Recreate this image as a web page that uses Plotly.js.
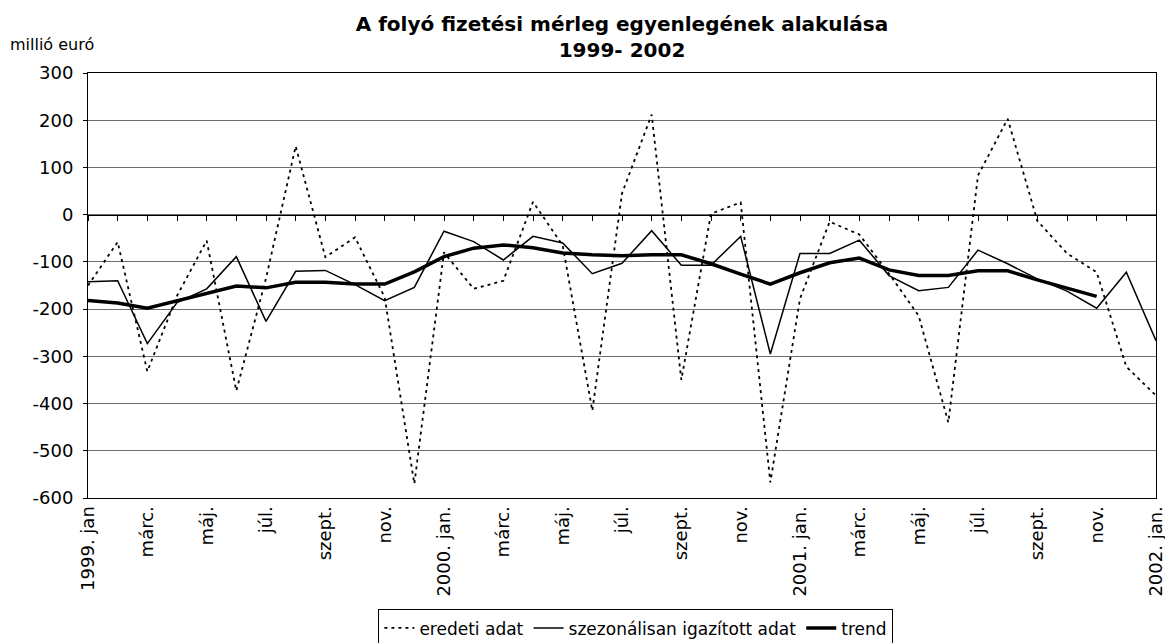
<!DOCTYPE html>
<html>
<head>
<meta charset="utf-8">
<script src="https://cdn.plot.ly/plotly-3.0.1.min.js"></script>
<style>html,body{margin:0;padding:0;background:#fff;}#chart{width:1165px;height:643px;}</style>
</head>
<body>
<div id="chart"></div>
<script>
// Month categories, 1999 jan – 2002 jan
const monthLabels = [
  "1999. jan","febr.","márc.","ápr.","máj.","jún.","júl.","aug.","szept.","okt.","nov.","dec.",
  "2000. jan.","febr.","márc.","ápr.","máj.","jún.","júl.","aug.","szept.","okt.","nov.","dec.",
  "2001. jan.","febr.","márc.","ápr.","máj.","jún.","júl.","aug.","szept.","okt.","nov.","dec.",
  "2002. jan."
];

// y-axis tick values (millió euró)
const yTicks = [300, 200, 100, 0, -100, -200, -300, -400, -500, -600];

// eredeti adat (original data), millió euró
const eredeti = [
  -150, -58, -332, -172, -55, -373, -135, 145, -90, -48, -175, -570,
  -80, -157, -140, 27, -65, -415, 45, 212, -350, 2, 26, -567,
  -178, -15, -42, -125, -214, -440, 83, 203, -13, -82, -122, -322,
  -383
];

// szezonálisan igazított adat (seasonally adjusted)
const szezonalis = [
  -142, -140, -273, -186, -157, -89, -226, -120, -118, -148, -182, -154,
  -35, -57, -96, -46, -60, -125, -103, -34, -107, -107, -46, -295,
  -82, -82, -54, -129, -161, -154, -75, -104, -136, -162, -198, -122,
  -267
];

// trend
const trend = [
  -182, -187, -198, -182, -167, -151, -155, -143, -143, -147, -147, -121,
  -89, -71, -64, -70, -81, -85, -87, -85, -85, -104, -126, -147,
  -123, -102, -92, -117, -129, -129, -119, -119, -138, -156, -173, null,
  null
];

const xIdx = monthLabels.map((_, i) => i);
const tickIdx = xIdx.filter(i => i % 2 === 0);
const tickText = tickIdx.map(i => monthLabels[i]);

const FONT = "DejaVu Sans, Arial, sans-serif";

const traces = [
  {x: xIdx, y: eredeti, name: "eredeti adat", type: "scatter", mode: "lines",
   line: {color: "#000", width: 1.8, dash: "3px,4px"}},
  {x: xIdx, y: szezonalis, name: "szezonálisan igazított adat", type: "scatter", mode: "lines",
   line: {color: "#000", width: 1.5}},
  {x: xIdx, y: trend, name: "trend", type: "scatter", mode: "lines", xaxis: "x2",
   line: {color: "#000", width: 3.5}}
];

const layout = {
  width: 1165, height: 643,
  margin: {l: 88, r: 9, t: 73, b: 145, autoexpand: false},
  paper_bgcolor: "#fff", plot_bgcolor: "#fff",
  font: {family: FONT, color: "#000", size: 17},
  title: {
    text: "<b>A folyó fizetési mérleg egyenlegének alakulása<br>1999- 2002</b>",
    font: {family: FONT, size: 20, color: "#000"},
    x: 0.5, xref: "paper", xanchor: "center",
    y: 0.952, yref: "container", yanchor: "top"
  },
  xaxis: {
    range: [0, 36], tickmode: "array", tickvals: tickIdx, ticktext: tickText,
    tickangle: -90, tickfont: {family: FONT, size: 18}, ticklabeloverflow: "allow",
    showgrid: false, zeroline: false, showline: true, linecolor: "#000", linewidth: 1,
    mirror: true, ticks: ""
  },
  xaxis2: {
    range: [0, 36], overlaying: "x", anchor: "free", position: 600 / 900, side: "bottom",
    tickmode: "linear", tick0: 0, dtick: 1, ticks: "outside", ticklen: 5, tickcolor: "#000",
    showticklabels: false, showgrid: false, zeroline: false,
    showline: true, linecolor: "#000", linewidth: 1
  },
  yaxis: {
    range: [-600, 300], tickmode: "array", tickvals: yTicks, ticktext: yTicks.map(v => String(v)),
    tickfont: {family: FONT, size: 18}, ticklabelstandoff: 6,
    showgrid: true, gridcolor: "#6e6e6e", gridwidth: 1,
    zeroline: false, showline: true, linecolor: "#000", linewidth: 1, mirror: true,
    ticks: "outside", ticklen: 4, tickcolor: "#000"
  },
  showlegend: true,
  legend: {
    orientation: "h", x: 0.513, xanchor: "center", y: -0.262, yanchor: "top",
    bordercolor: "#000", borderwidth: 1, bgcolor: "#fff",
    font: {family: FONT, size: 17}, traceorder: "normal"
  },
  annotations: [{
    text: "millió euró", xref: "paper", yref: "paper",
    x: -0.0747, xanchor: "left", y: 1.068, yanchor: "middle",
    showarrow: false, font: {family: FONT, size: 16, color: "#000"}
  }]
};

Plotly.newPlot("chart", traces, layout, {displayModeBar: false, staticPlot: true});
</script>
</body>
</html>
